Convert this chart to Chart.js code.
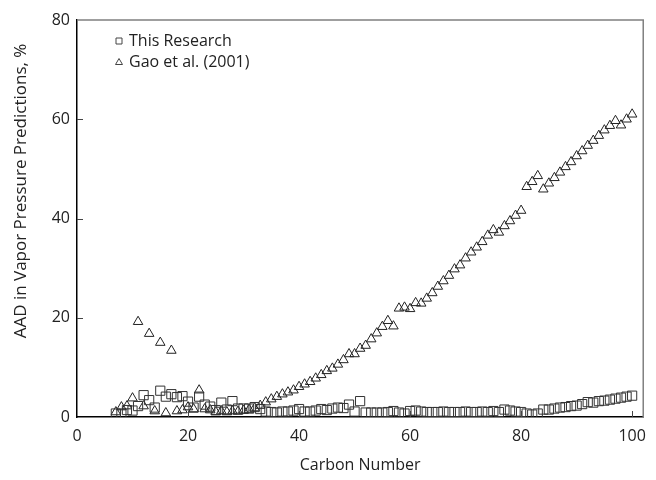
<!DOCTYPE html>
<html>
<head>
<meta charset="utf-8">
<script src="https://cdn.jsdelivr.net/npm/chart.js@4.4.0/dist/chart.umd.min.js"></script>
<style>
  html, body { margin: 0; padding: 0; background: #fff; }
  #wrap { width: 656px; height: 480px; }
</style>
</head>
<body>
<div id="wrap"><canvas id="chart"></canvas></div>
<script>
const carbonNumbers = [7, 8, 9, 10, 11, 12, 13, 14, 15, 16, 17, 18, 19, 20, 21, 22, 23, 24, 25, 26,
  27, 28, 29, 30, 31, 32, 33, 34, 35, 36, 37, 38, 39, 40, 41, 42, 43, 44, 45, 46,
  47, 48, 49, 50, 51, 52, 53, 54, 55, 56, 57, 58, 59, 60, 61, 62, 63, 64, 65, 66,
  67, 68, 69, 70, 71, 72, 73, 74, 75, 76, 77, 78, 79, 80, 81, 82, 83, 84, 85, 86,
  87, 88, 89, 90, 91, 92, 93, 94, 95, 96, 97, 98, 99, 100];

// AAD %, this research
const thisResearch = [0.7, 0.7, 1.4, 1.3, 2.2, 4.4, 3.4, 1.9, 5.3, 4.1, 4.6, 4.0, 4.2, 3.1, 1.9, 4.1, 2.5, 2.1, 1.4, 2.9,
  1.5, 3.2, 1.7, 1.7, 1.7, 2.0, 1.6, 1.1, 1.0, 0.9, 1.1, 1.1, 1.3, 1.6, 1.1, 1.1, 1.3, 1.6, 1.4, 1.7,
  1.9, 1.8, 2.5, 1.1, 3.2, 0.9, 0.9, 0.9, 0.9, 1.0, 1.2, 0.9, 0.7, 1.2, 1.3, 1.1, 1.0, 1.0, 1.0, 1.1,
  1.0, 1.0, 1.0, 1.1, 1.0, 1.0, 1.1, 1.0, 1.2, 1.0, 1.5, 1.3, 1.1, 1.0, 0.7, 0.5, 0.7, 1.5, 1.5, 1.7,
  1.9, 2.0, 2.2, 2.3, 2.6, 3.0, 2.9, 3.2, 3.3, 3.5, 3.7, 3.9, 4.1, 4.3];

// AAD %, Gao et al. (2001)
const gao2001 = [1.0, 2.0, 2.2, 3.8, 19.2, 2.2, 16.8, 1.2, 15.0, 0.8, 13.4, 1.2, 1.4, 2.0, 1.6, 5.4, 1.6, 1.4, 1.0, 1.2,
  1.0, 1.2, 1.1, 1.3, 1.5, 1.8, 2.3, 3.0, 3.6, 4.1, 4.6, 5.0, 5.4, 6.1, 6.6, 7.1, 7.8, 8.5, 9.3, 9.8,
  10.6, 11.5, 12.7, 12.7, 13.8, 14.4, 15.7, 16.9, 18.2, 19.4, 18.3, 21.9, 22.1, 21.8, 23.0, 22.9, 23.9, 25.0, 26.3, 27.4,
  28.5, 29.8, 30.6, 32.0, 33.2, 34.2, 35.3, 36.6, 37.7, 37.2, 38.5, 39.5, 40.6, 41.6, 46.4, 47.4, 48.6, 45.9, 47.1, 48.2,
  49.3, 50.4, 51.4, 52.6, 53.6, 54.7, 55.7, 56.7, 57.8, 58.7, 59.7, 58.8, 60.0, 61.0];

const xTicks = [0, 20, 40, 60, 80, 100];
const yTicks = [0, 20, 40, 60, 80];
const yTitle = 'AAD in Vapor Pressure Predictions, %';

const fontFamily = '"Open Sans", "Liberation Sans", sans-serif';
const textColor = '#222';

function toPoints(values) {
  return carbonNumbers.map(function (c, i) { return { x: c, y: values[i] }; });
}

// top/right frame and short inward tick marks
const frameTicks = {
  id: 'frameTicks',
  afterDatasetsDraw(chart) {
    const ctx = chart.ctx;
    const a = chart.chartArea;
    const xs = chart.scales.x, ys = chart.scales.y;
    ctx.save();
    ctx.strokeStyle = '#808080';
    ctx.lineWidth = 1.5;
    ctx.beginPath();
    ctx.moveTo(a.left, a.top);
    ctx.lineTo(a.right, a.top);
    ctx.lineTo(a.right, a.bottom);
    ctx.stroke();
    ctx.strokeStyle = '#444';
    ctx.lineWidth = 1;
    ctx.beginPath();
    xTicks.forEach(function (v) {
      if (v === 0) return;
      const px = Math.round(xs.getPixelForValue(v)) + 0.5;
      ctx.moveTo(px, a.bottom);
      ctx.lineTo(px, a.bottom - 6);
    });
    yTicks.forEach(function (v) {
      if (v === 0 || v === 80) return;
      const py = Math.round(ys.getPixelForValue(v)) + 0.5;
      ctx.moveTo(a.left, py);
      ctx.lineTo(a.left + 6, py);
    });
    ctx.stroke();
    ctx.restore();
  }
};

// y title sits a little above the middle of the axis in the original
const yTitlePlugin = {
  id: 'yTitlePlugin',
  afterDraw(chart) {
    const ctx = chart.ctx;
    ctx.save();
    ctx.translate(21, 191);
    ctx.rotate(-Math.PI / 2);
    ctx.font = '17px ' + fontFamily;
    ctx.fillStyle = textColor;
    ctx.textAlign = 'center';
    ctx.textBaseline = 'middle';
    ctx.fillText(yTitle, 0, 0);
    ctx.restore();
  }
};

// legend drawn inside the plot area, top left
const insideLegend = {
  id: 'insideLegend',
  afterDraw(chart) {
    const ctx = chart.ctx;
    const a = chart.chartArea;
    ctx.save();
    ctx.font = '16px ' + fontFamily;
    ctx.fillStyle = textColor;
    ctx.textBaseline = 'middle';
    chart.data.datasets.forEach(function (ds, i) {
      const mx = a.left + 42;
      const my = a.top + 21 + i * 21;
      ctx.strokeStyle = '#444';
      ctx.lineWidth = 1;
      ctx.beginPath();
      if (ds.pointStyle === 'rect') {
        ctx.rect(mx - 3, my - 3, 6, 6);
      } else {
        ctx.moveTo(mx, my - 3.5);
        ctx.lineTo(mx + 3.5, my + 2.5);
        ctx.lineTo(mx - 3.5, my + 2.5);
        ctx.closePath();
      }
      ctx.stroke();
      ctx.fillText(ds.label, mx + 10, my);
    });
    ctx.restore();
  }
};

const ctx = document.getElementById('chart').getContext('2d');
const chart = new Chart(ctx, {
  type: 'scatter',
  data: {
    datasets: [
      {
        label: 'This Research',
        data: toPoints(thisResearch),
        pointStyle: 'rect',
        pointRadius: 6.5,
        backgroundColor: 'rgba(0,0,0,0)',
        borderColor: '#333',
        borderWidth: 1
      },
      {
        label: 'Gao et al. (2001)',
        data: toPoints(gao2001),
        pointStyle: 'triangle',
        pointRadius: 5.5,
        backgroundColor: 'rgba(0,0,0,0)',
        borderColor: '#222',
        borderWidth: 1
      }
    ]
  },
  options: {
    responsive: true,
    maintainAspectRatio: false,
    animation: false,
    layout: { padding: { top: 20, right: 5, left: 0, bottom: 0 } },
    plugins: {
      legend: { display: false },
      tooltip: { enabled: false }
    },
    scales: {
      x: {
        type: 'linear',
        min: 0,
        max: 102,
        afterBuildTicks: function (scale) {
          scale.ticks = xTicks.map(function (v) { return { value: v }; });
        },
        afterFit: function (scale) { scale.height = 63; },
        grid: { display: false, drawTicks: false },
        border: { display: true, color: '#000', width: 1.5 },
        ticks: { color: textColor, font: { family: fontFamily, size: 16 }, padding: 10, maxRotation: 0 },
        title: {
          display: true,
          text: 'Carbon Number',
          color: textColor,
          font: { family: fontFamily, size: 16 },
          padding: { top: 0, bottom: 5 }
        }
      },
      y: {
        min: 0,
        max: 80,
        afterBuildTicks: function (scale) {
          scale.ticks = yTicks.map(function (v) { return { value: v }; });
        },
        afterFit: function (scale) { scale.width = 77; },
        grid: { display: false, drawTicks: false },
        border: { display: true, color: '#000', width: 1.5 },
        ticks: { color: textColor, font: { family: fontFamily, size: 16 }, padding: 7 }
      }
    }
  },
  plugins: [frameTicks, yTitlePlugin, insideLegend]
});
</script>
</body>
</html>
